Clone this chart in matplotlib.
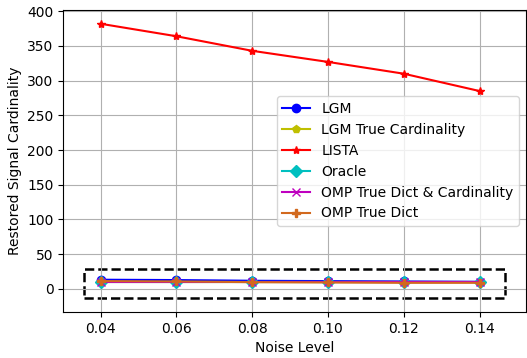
import matplotlib.pyplot as plt
import matplotlib.patches as patches

# noise levels on the x axis
noise = [0.04, 0.06, 0.08, 0.10, 0.12, 0.14]

# restored cardinality for each method
lgm = [13, 12.5, 11.5, 11, 10.5, 10]
lgm_true_card = [10, 10, 10, 10, 10, 10]
lista = [382, 364, 343, 327, 310, 285]
oracle = [10, 10, 10, 10, 10, 10]
omp_true_dict_card = [10, 10, 10, 10, 10, 10]
omp_true_dict = [11, 10.5, 9.5, 9, 8.5, 8.5]

fig = plt.figure(figsize=(5.27, 3.58), dpi=100)
ax = fig.add_axes([0.12, 0.128, 0.878, 0.844])

ax.plot(noise, lgm, 'b-o', label='LGM')
ax.plot(noise, lgm_true_card, 'y-p', label='LGM True Cardinality')
ax.plot(noise, lista, 'r-*', label='LISTA')
ax.plot(noise, oracle, 'c-D', label='Oracle')
ax.plot(noise, omp_true_dict_card, 'm-x', label='OMP True Dict & Cardinality')
ax.plot(noise, omp_true_dict, '-P', color='chocolate', label='OMP True Dict')

# highlight the cluster of low-cardinality methods
box = patches.Rectangle((0.0357, -14), 0.111, 43, fill=False,
                        edgecolor='black', linestyle='--', linewidth=1.8)
ax.add_patch(box)
ax.autoscale_view()

ax.set_xticks(noise)
ax.set_xlabel('Noise Level')
ax.set_ylabel('Restored Signal Cardinality')
ax.grid(True)
ax.legend(loc='center right')

plt.savefig('out.png')
